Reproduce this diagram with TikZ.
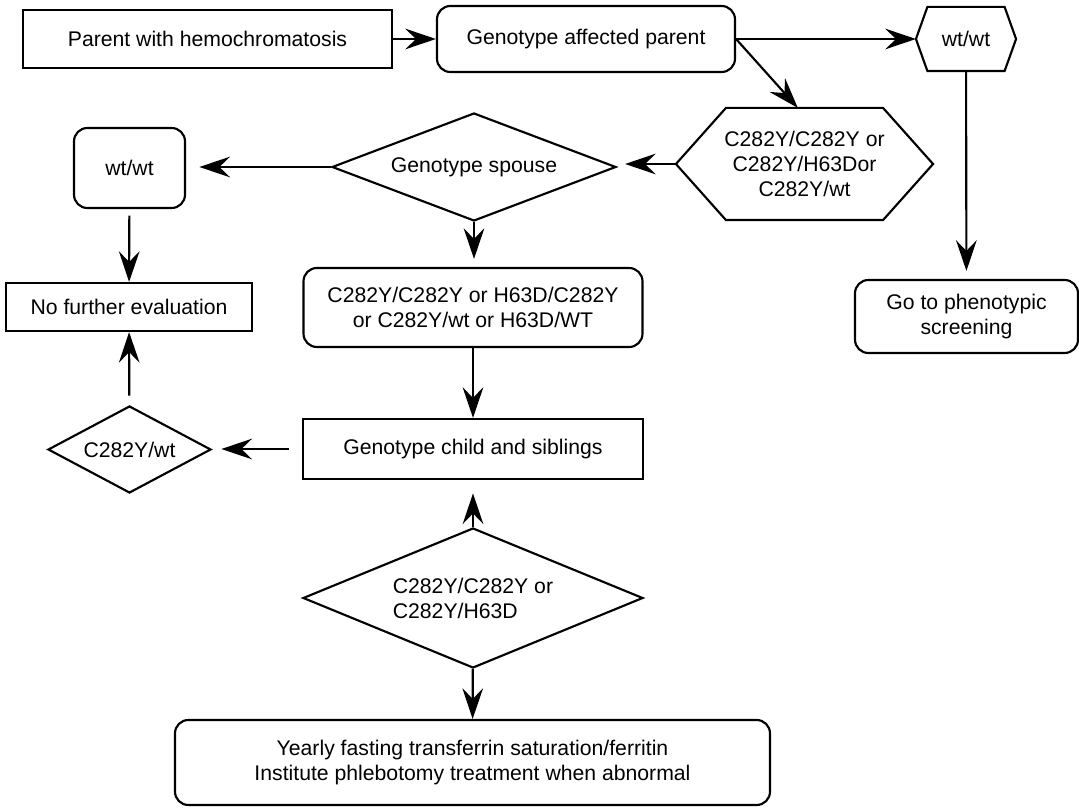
\documentclass[tikz,border=0pt]{standalone}
\usepackage{fontspec}
\setmainfont{Liberation Sans}
\usetikzlibrary{shapes.geometric,arrows.meta}
\newcommand{\hexagon}[2]{\draw (#1.west) -- ([xshift=#2]#1.north west) -- ([xshift=-#2]#1.north east) -- (#1.east) -- ([xshift=-#2]#1.south east) -- ([xshift=#2]#1.south west) -- cycle;}

\begin{document}
\begin{tikzpicture}[x=0.75pt, y=-0.75pt, line width=1.6pt,
    font=\fontsize{15.9}{18.75}\selectfont,
    >={Stealth[length=23pt, width=15.5pt, inset=8pt]},
    box/.style={draw, rectangle, inner sep=0pt, align=center},
    rbox/.style={box, rounded corners=10pt},
    dbox/.style={draw, diamond, inner sep=0pt, align=center},
    hbox/.style={rectangle, inner sep=0pt, align=center}]
    \useasboundingbox (0,0) rectangle (1079,809);

    \node[box, minimum width=276.75pt, minimum height=43.5pt] (parent) at (207.5,39) {Parent with hemochromatosis};
    \node[rbox, minimum width=223.5pt, minimum height=49.5pt] (gap) at (586,39) {Genotype affected parent};
    \node[hbox, minimum width=73.5pt, minimum height=46.5pt] (wtR) at (966,39) {wt/wt};
    \node[hbox, minimum width=191.25pt, minimum height=82.5pt] (hex2) at (804.5,164) {C282Y/C282Y or\\C282Y/H63Dor\\C282Y/wt};
    \node[dbox, aspect=2.63, minimum width=213pt, minimum height=81pt] (spouse) at (474,167) {Genotype spouse};
    \node[rbox, minimum width=83.25pt, minimum height=60pt] (wtL) at (129.5,168) {wt/wt};
    \node[box, minimum width=184.5pt, minimum height=36pt] (nofurther) at (129,307) {No further evaluation};
    \node[rbox, minimum width=254.25pt, minimum height=59.25pt] (res) at (473,307.5) {C282Y/C282Y or H63D/C282Y\\or C282Y/wt or H63D/WT};
    \node[rbox, minimum width=167.25pt, minimum height=54.75pt] (pheno) at (966.5,316.5) {Go to phenotypic\\screening};
    \node[box, minimum width=255pt, minimum height=45pt] (child) at (473,449) {Genotype child and siblings};
    \node[dbox, aspect=1.87, minimum width=122.25pt, minimum height=65.25pt] (cwt) at (129.5,449.5) {C282Y/wt};
    \node[dbox, aspect=2.43, minimum width=255pt, minimum height=105pt, align=left] (hom) at (473,598) {C282Y/C282Y or\\C282Y/H63D};
    \node[rbox, minimum width=446.25pt, minimum height=63.75pt] (yearly) at (472.5,762.5) {Yearly fasting transferrin saturation/ferritin\\Institute phlebotomy treatment when abnormal};

    \hexagon{wtR}{8.6pt}
    \hexagon{hex2}{37.5pt}

    \draw[->] (parent) -- (gap);
    \draw[->] (gap) -- (wtR);
    \draw[->] (gap.east) -- ([xshift=-5pt]hex2.north);
    \draw[->, shorten >=6pt] (hex2.west) -- (hex2.west -| spouse.east);
    \draw[->, shorten >=10pt] (spouse.west) -- (spouse.west -| wtL.east);
    \draw[->, shorten >=6pt] (spouse.south) -- (spouse.south |- res.north);
    \draw[->, shorten <=5pt] (wtL) -- (nofurther);
    \draw[->, shorten >=6pt] (wtR) -- (pheno);
    \draw[->] (res) -- (child);
    \draw[->, shorten <=10pt, shorten >=7pt] (child.west) -- (child.west -| cwt.east);
    \draw[->, shorten <=7pt] (cwt) -- (nofurther);
    \draw[->, shorten >=10pt] (hom) -- (child);
    \draw[->] (hom) -- (yearly);
\end{tikzpicture}
\end{document}
